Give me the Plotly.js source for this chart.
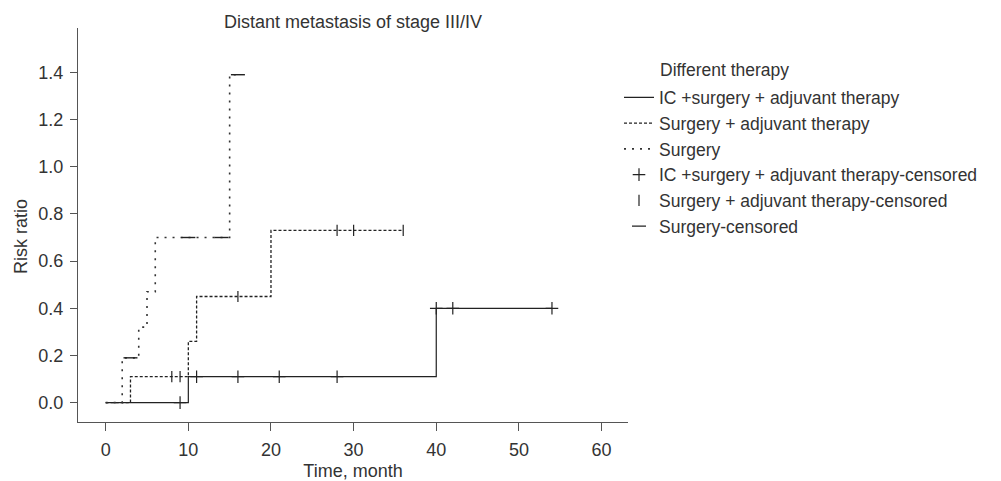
<!DOCTYPE html>
<html>
<head>
<meta charset="utf-8">
<script src="https://cdn.plot.ly/plotly-3.0.1.min.js"></script>
<style>html,body{margin:0;padding:0;background:#fff}#chart{width:1001px;height:481px}</style>
</head>
<body>
<div id="chart"></div>
<script>
// Step curves (time in months, cumulative risk)
const icTime = [0, 10, 40, 54];
const icRisk = [0, 0.11, 0.40, 0.40];
const saTime = [0, 3, 10, 11, 20, 36];
const saRisk = [0, 0.11, 0.26, 0.45, 0.73, 0.73];
const sTime = [0, 2, 4, 5, 6, 15, 16];
const sRisk = [0, 0.19, 0.32, 0.47, 0.70, 1.39, 1.39];
// Censored observations
const icCensTime = [9, 11, 16, 21, 28, 40, 42, 54];
const icCensRisk = [0, 0.11, 0.11, 0.11, 0.11, 0.40, 0.40, 0.40];
const saCensTime = [8, 9, 16, 28, 30, 36];
const saCensRisk = [0.11, 0.11, 0.45, 0.73, 0.73, 0.73];
const sCensTime = [3, 10, 14, 16];
const sCensRisk = [0.19, 0.70, 0.70, 1.39];
// Labels
const seriesNames = ["IC +surgery + adjuvant therapy", "Surgery + adjuvant therapy", "Surgery",
  "IC +surgery + adjuvant therapy-censored", "Surgery + adjuvant therapy-censored", "Surgery-censored"];
const legendTitle = "Different therapy";
const chartTitle = "Distant metastasis of stage III/IV";
const xTitle = "Time, month";
const yTitle = "Risk ratio";
const xTicks = [0, 10, 20, 30, 40, 50, 60];
const yTicks = [0, 0.2, 0.4, 0.6, 0.8, 1.0, 1.2, 1.4];

const ink = "#222";
const txt = "#333";
const L = 78, R = 628, T = 28, B = 422;      // plot box in px
const PW = R - L, PH = B - T;
const px = v => (v - L) / PW;               // px -> paper x
const py = v => 1 - (v - T) / PH;           // px -> paper y

const traces = [
  {x: icTime, y: icRisk, name: seriesNames[0], mode: "lines", line: {shape: "hv", color: ink, width: 1.2}},
  {x: saTime, y: saRisk, name: seriesNames[1], mode: "lines", line: {shape: "hv", color: ink, width: 1.3, dash: "3px,2px"}},
  {x: sTime, y: sRisk, name: seriesNames[2], mode: "lines", line: {shape: "hv", color: "#333", width: 1.6, dash: "2px,6px"}},
  {x: icCensTime, y: icCensRisk, name: seriesNames[3], mode: "markers",
    marker: {symbol: "cross-thin-open", size: 9, color: ink, line: {color: ink, width: 1.2}}},
  {x: saCensTime, y: saCensRisk, name: seriesNames[4], mode: "markers",
    marker: {symbol: "line-ns-open", size: 8, color: ink, line: {color: ink, width: 1.2}}},
  {x: sCensTime, y: sCensRisk, name: seriesNames[5], mode: "markers",
    marker: {symbol: "line-ew-open", size: 10, color: ink, line: {color: ink, width: 1.4}}}
];

const layout = {
  width: 1001, height: 481,
  margin: {l: L, r: 1001 - R, t: T, b: 481 - B, pad: 0},
  paper_bgcolor: "#fff", plot_bgcolor: "#fff",
  font: {family: "Liberation Sans, Arial, sans-serif", size: 18, color: txt},
  title: {text: chartTitle, x: 0.5, xref: "paper", xanchor: "center",
    y: 1 - 22 / 481, yref: "container", yanchor: "middle", font: {size: 18, color: txt}},
  xaxis: {range: [-3.35, 63.2], tickvals: xTicks, ticktext: xTicks.map(String),
    showgrid: false, zeroline: false, showline: true, linecolor: "#555", linewidth: 1.2,
    ticks: "outside", ticklen: 8, tickcolor: "#555", tickwidth: 1, ticklabelstandoff: 3,
    tickfont: {size: 18, color: txt},
    title: {text: xTitle, font: {size: 18, color: txt}, standoff: 7}},
  yaxis: {range: [-0.082, 1.588], tickvals: yTicks, ticktext: yTicks.map(v => v.toFixed(1)),
    showgrid: false, zeroline: false, showline: true, linecolor: "#555", linewidth: 1.2,
    ticks: "outside", ticklen: 7, tickcolor: "#555", tickwidth: 1, ticklabelstandoff: 3,
    tickfont: {size: 18, color: txt}},
  annotations: [
    {text: yTitle, xref: "paper", yref: "paper", x: px(21), y: py(237),
      xanchor: "center", yanchor: "middle", textangle: -90, showarrow: false, font: {size: 18, color: txt}},
    {text: legendTitle, xref: "paper", yref: "paper", x: px(658), y: py(70),
      xanchor: "left", yanchor: "middle", showarrow: false, font: {size: 17.5, color: txt}}
  ],
  showlegend: true,
  legend: {x: px(619), xanchor: "left", y: py(79.5), yanchor: "top", bgcolor: "rgba(0,0,0,0)",
    font: {size: 17.5, color: txt}, itemwidth: 30, tracegroupgap: 0}
};

Plotly.newPlot("chart", traces, layout, {staticPlot: true, displayModeBar: false});
</script>
</body>
</html>
